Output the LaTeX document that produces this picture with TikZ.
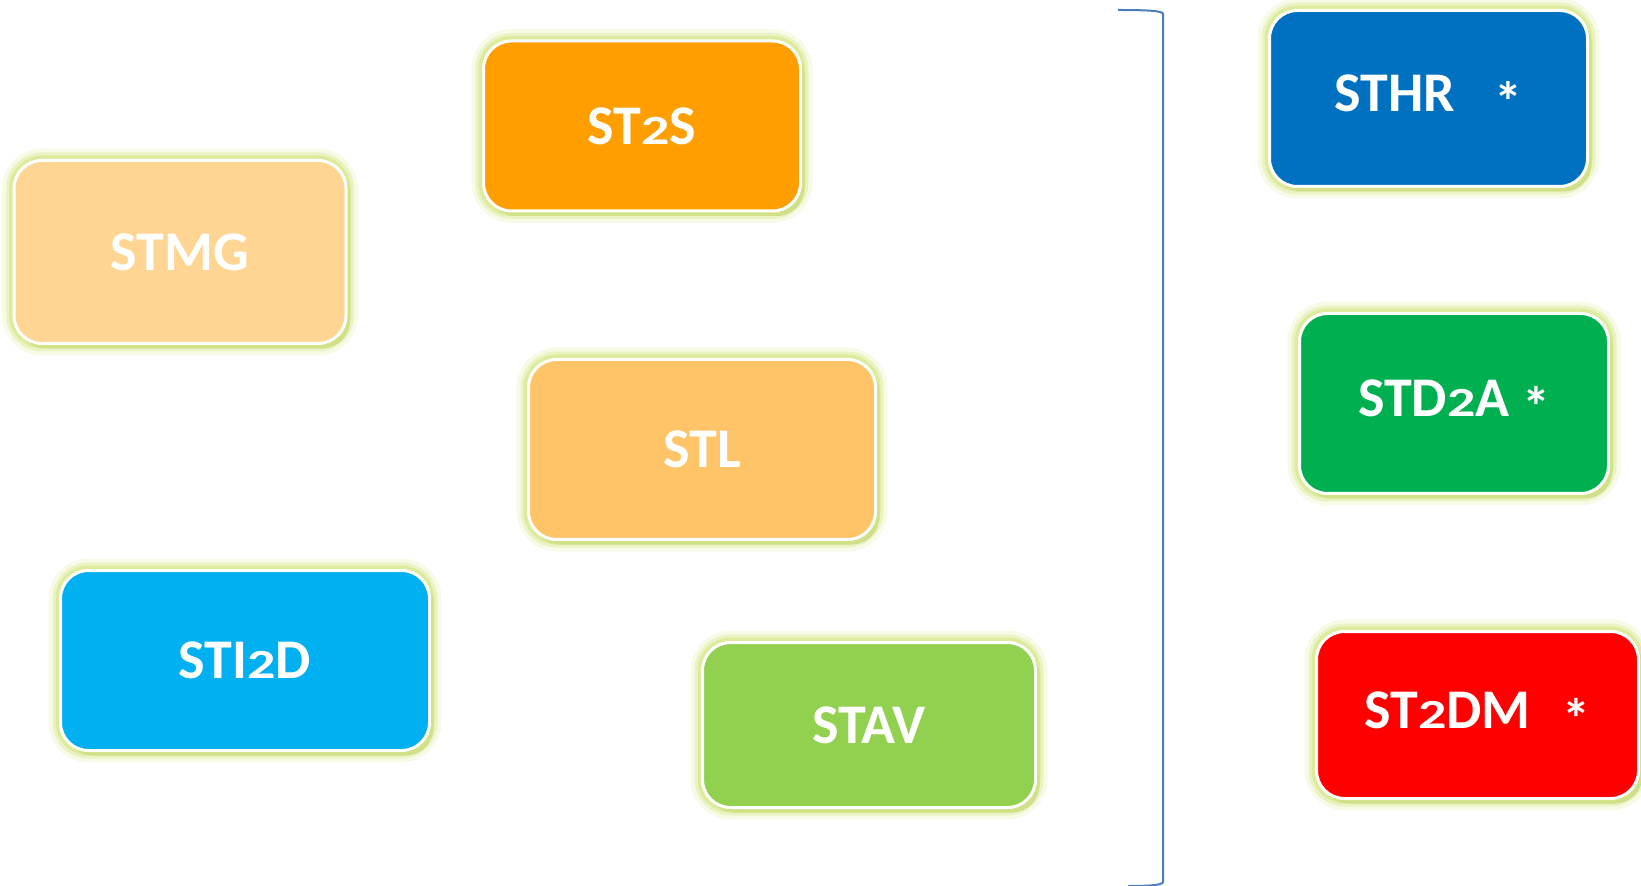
\documentclass[tikz,border=0pt]{standalone}
\usepackage{fontspec}
\usepackage{graphicx}
\setsansfont{Carlito}
\usetikzlibrary{shadows}
\definecolor{cmg}{HTML}{FFD593}
\definecolor{c2s}{HTML}{FF9E00}
\definecolor{cl}{HTML}{FFC468}
\definecolor{ci2d}{HTML}{00B0F0}
\definecolor{cav}{HTML}{92D050}
\definecolor{chr}{HTML}{0070C0}
\definecolor{cd2a}{HTML}{00B050}
\definecolor{c2dm}{HTML}{FF0000}
\definecolor{glowc}{HTML}{D4E682}
\definecolor{shadc}{HTML}{9DB255}
\definecolor{brack}{HTML}{4A7EBB}
% chiffre 2 bas de casse, etoile abaissee
\newcommand{\deux}{\scalebox{1}[0.74]{2}}
\newcommand{\etoile}{\raisebox{-5pt}{*}}
\begin{document}
\begin{tikzpicture}[x=0.5pt, y=-0.5pt,
  box/.style = {draw=white, line width=1.5pt, rounded corners=14pt, inner sep=0pt,
    text=white, font=\sffamily\bfseries\fontsize{28}{30}\selectfont,
    drop shadow={shadow xshift=2pt, shadow yshift=-2.5pt, fill=shadc, opacity=.6},
    preaction={draw=glowc, line width=12pt, opacity=.2},
    preaction={draw=glowc, line width=8pt, opacity=.35},
    preaction={draw=glowc, line width=5pt, opacity=.6}}]
  \useasboundingbox (0,0) rectangle (1641,886);
  % colonna di sinistra
  \node[box, fill=cmg, minimum width=166pt, minimum height=91.5pt] (stmg) at (180,252) {STMG};
  \node[box, fill=ci2d, minimum width=184.5pt, minimum height=90pt] (sti2d) at (245,660.5) {STI\deux D};
  % colonna centrale
  \node[box, fill=c2s, minimum width=158.5pt, minimum height=85pt] (st2s) at (642,126) {ST\deux S};
  \node[box, fill=cl, minimum width=173.5pt, minimum height=90pt] (stl) at (702,449.5) {STL};
  \node[box, fill=cav, minimum width=166.5pt, minimum height=82.5pt] (stav) at (869,725) {STAV};
  % parentesi
  \draw[brack, line width=1pt] (1118,10) .. controls (1150,10) and (1163,11) .. (1163,14)
    -- (1163,882) .. controls (1163,885) and (1150,886) .. (1128,886);
  % colonna di destra
  \node[box, fill=chr, minimum width=159pt, minimum height=88pt] (sthr) at (1428.5,98.5) {STHR\hspace{20pt}\etoile};
  \node[box, fill=cd2a, minimum width=154.5pt, minimum height=90pt] (std2a) at (1454,403.5) {STD\deux A \etoile};
  \node[box, fill=c2dm, minimum width=161pt, minimum height=83.5pt] (st2dm) at (1477.5,715) {ST\deux DM\hspace{16pt}\etoile};
\end{tikzpicture}
\end{document}
